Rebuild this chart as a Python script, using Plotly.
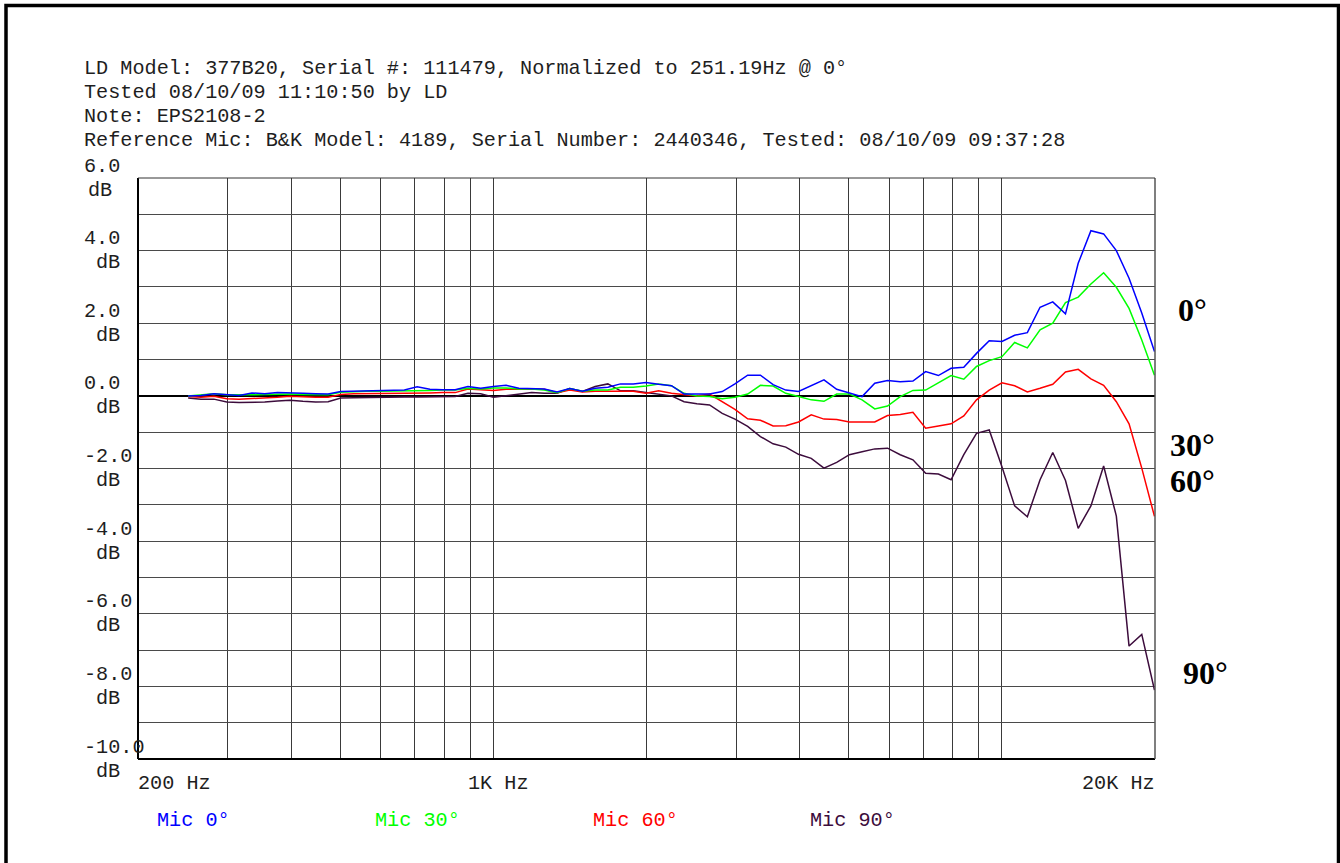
import plotly.graph_objects as go

# ---------------- data ----------------
freq_hz = [251, 266, 282, 299, 316, 335, 355, 376, 398, 422, 447, 473, 501, 531, 562, 596,
           631, 668, 708, 750, 794, 841, 891, 944, 1000, 1059, 1122, 1189, 1259, 1334, 1413,
           1496, 1585, 1679, 1778, 1884, 1995, 2113, 2239, 2371, 2512, 2661, 2818, 2985,
           3162, 3350, 3548, 3758, 3981, 4217, 4467, 4732, 5012, 5309, 5623, 5957, 6310,
           6683, 7079, 7499, 7943, 8414, 8913, 9441, 10000, 10593, 11220, 11885, 12589,
           13335, 14125, 14962, 15849, 16788, 17783, 18836, 19953]

mic_0 = [0.00, 0.01, 0.06, 0.03, 0.01, 0.08, 0.06, 0.09, 0.09, 0.07, 0.06, 0.05, 0.12, 0.13,
         0.14, 0.15, 0.15, 0.16, 0.25, 0.18, 0.17, 0.17, 0.26, 0.21, 0.26, 0.29, 0.21, 0.19,
         0.19, 0.11, 0.20, 0.13, 0.21, 0.24, 0.33, 0.33, 0.37, 0.32, 0.28, 0.05, 0.05, 0.05,
         0.12, 0.33, 0.57, 0.57, 0.31, 0.16, 0.12, 0.29, 0.44, 0.18, 0.09, -0.02, 0.35, 0.42,
         0.39, 0.41, 0.67, 0.56, 0.76, 0.79, 1.17, 1.52, 1.50, 1.67, 1.74, 2.44, 2.59, 2.26,
         3.65, 4.55, 4.46, 4.00, 3.24, 2.28, 1.22]

mic_30 = [0.00, 0.03, 0.06, 0.03, 0.02, 0.03, 0.04, 0.05, 0.05, 0.04, 0.03, 0.03, 0.10, 0.12,
          0.13, 0.13, 0.13, 0.13, 0.15, 0.15, 0.16, 0.16, 0.21, 0.19, 0.22, 0.22, 0.19, 0.19,
          0.16, 0.09, 0.20, 0.13, 0.16, 0.16, 0.24, 0.24, 0.27, 0.33, 0.28, 0.07, 0.00, -0.02,
          -0.08, -0.04, 0.05, 0.29, 0.27, 0.07, -0.02, -0.11, -0.15, 0.05, 0.05, -0.11, -0.36,
          -0.28, -0.02, 0.15, 0.16, 0.37, 0.56, 0.46, 0.81, 0.97, 1.08, 1.47, 1.32, 1.82, 2.00,
          2.57, 2.72, 3.08, 3.39, 2.99, 2.41, 1.54, 0.57]

mic_60 = [-0.02, -0.04, -0.01, -0.08, -0.09, -0.08, -0.06, -0.04, -0.01, -0.03, -0.04, -0.04,
          0.04, 0.06, 0.06, 0.06, 0.06, 0.08, 0.08, 0.08, 0.09, 0.09, 0.19, 0.18, 0.15, 0.18,
          0.19, 0.19, 0.18, 0.09, 0.16, 0.11, 0.13, 0.13, 0.14, 0.13, 0.07, 0.14, 0.07, 0.04,
          0.00, 0.05, -0.16, -0.37, -0.63, -0.67, -0.83, -0.82, -0.72, -0.52, -0.64, -0.65,
          -0.72, -0.72, -0.72, -0.54, -0.51, -0.45, -0.89, -0.83, -0.77, -0.55, -0.11, 0.16,
          0.36, 0.28, 0.11, 0.21, 0.32, 0.66, 0.73, 0.47, 0.29, -0.16, -0.77, -1.99, -3.32]

mic_90 = [-0.06, -0.09, -0.09, -0.17, -0.18, -0.18, -0.17, -0.14, -0.12, -0.15, -0.17, -0.16,
          -0.06, -0.05, -0.04, -0.04, -0.03, -0.03, -0.03, -0.03, -0.03, -0.02, 0.07, 0.06,
          -0.04, 0.00, 0.04, 0.09, 0.07, 0.07, 0.20, 0.12, 0.26, 0.33, 0.14, 0.14, 0.09, 0.05,
          0.00, -0.16, -0.22, -0.25, -0.48, -0.64, -0.84, -1.12, -1.32, -1.41, -1.61, -1.72,
          -1.99, -1.83, -1.62, -1.54, -1.46, -1.44, -1.62, -1.76, -2.13, -2.15, -2.31, -1.62,
          -1.03, -0.94, -1.95, -3.03, -3.33, -2.31, -1.56, -2.33, -3.65, -3.03, -1.93, -3.31,
          -6.89, -6.57, -8.10]

series_names = ["Mic 0°", "Mic 30°", "Mic 60°", "Mic 90°"]
series_colors = ["#0000FF", "#00FF00", "#FF0000", "#3C0C3C"]
series_values = [mic_0, mic_30, mic_60, mic_90]

x_grid = [300, 400, 500, 600, 700, 800, 900, 1000, 2000, 3000, 4000, 5000, 6000, 7000,
          8000, 9000, 10000]
y_labels = [6, 4, 2, 0, -2, -4, -6, -8, -10]
x_labels = [(200, "200 Hz"), (1000, "1K Hz"), (20000, "20K Hz")]

header_lines = [
    "LD Model: 377B20, Serial #: 111479, Normalized to 251.19Hz @ 0°",
    "Tested 08/10/09 11:10:50 by LD",
    "Note: EPS2108-2",
    "Reference Mic: B&K Model: 4189, Serial Number: 2440346, Tested: 08/10/09 09:37:28",
]
angle_labels = [("0°", 1192, 310), ("30°", 1192, 445), ("60°", 1192, 481), ("90°", 1205, 673)]

# ---------------- layout geometry (pixels) ----------------
W, H = 1340, 863
L, R, T, B = 138, 1155, 178, 759
PW, PH = R - L, B - T


def px(x):
    return (x - L) / PW


def py(y):
    return (B - y) / PH


MONO = "Courier New, Courier, Nimbus Mono PS, FreeMono, Liberation Mono, monospace"
FS = 20.2
TXT = "#1e1e1e"

fig = go.Figure()
for name, color, vals in zip(reversed(series_names), reversed(series_colors),
                             reversed(series_values)):
    fig.add_trace(go.Scatter(x=freq_hz, y=vals, mode="lines", name=name,
                             line=dict(color=color, width=1.5), showlegend=False))

annotations = []
for i, line in enumerate(header_lines):
    annotations.append(dict(text=line, x=px(82), y=py(68 + 24 * i), xref="paper", yref="paper",
                            xanchor="left", yanchor="middle", showarrow=False,
                            font=dict(family=MONO, size=FS, color=TXT)))

for v in y_labels:
    gy = B - (v + 10) / 16 * PH
    annotations.append(dict(text=f"{v:.1f}", x=px(82), y=py(gy - 12), xref="paper",
                            yref="paper", xanchor="left", yanchor="middle", showarrow=False,
                            font=dict(family=MONO, size=FS, color=TXT)))
    annotations.append(dict(text="dB", x=px(86 if v == 6 else 94), y=py(gy + 12),
                            xref="paper", yref="paper", xanchor="left", yanchor="middle",
                            showarrow=False, font=dict(family=MONO, size=FS, color=TXT)))

x_lab_pos = [(136, "left"), (466, "left"), (1157, "right")]
for (f, lab), (xp, anc) in zip(x_labels, x_lab_pos):
    annotations.append(dict(text=lab, x=px(xp), y=py(784), xref="paper", yref="paper",
                            xanchor=anc, yanchor="middle", showarrow=False,
                            font=dict(family=MONO, size=FS, color=TXT)))

leg_x = [155, 373, 591, 808]
for name, color, lx in zip(series_names, series_colors, leg_x):
    annotations.append(dict(text=name, x=px(lx), y=py(820), xref="paper", yref="paper",
                            xanchor="left", yanchor="middle", showarrow=False,
                            font=dict(family=MONO, size=FS, color=color)))

for lab, ax, ay in angle_labels:
    annotations.append(dict(text=f"<b>{lab}</b>", x=px(ax), y=py(ay), xref="paper",
                            yref="paper", xanchor="center", yanchor="middle", showarrow=False,
                            font=dict(family="Liberation Serif, Times New Roman, serif",
                                      size=32, color="#000000")))

shapes = [
    # outer frame (bottom edge falls outside the page)
    dict(type="rect", xref="paper", yref="paper", x0=px(6), x1=px(1338.5), y0=py(880),
         y1=py(5.5), line=dict(color="#000000", width=3.5), layer="above"),
    # plot frame
    dict(type="line", xref="paper", yref="paper", x0=0, x1=0, y0=0, y1=1,
         line=dict(color="#000000", width=2)),
    dict(type="line", xref="paper", yref="paper", x0=0, x1=1, y0=0, y1=0,
         line=dict(color="#000000", width=2)),
    dict(type="line", xref="paper", yref="paper", x0=1, x1=1, y0=0, y1=1,
         line=dict(color="#555555", width=1.5)),
    dict(type="line", xref="paper", yref="paper", x0=0, x1=1, y0=1, y1=1,
         line=dict(color="#333333", width=1)),
]

fig.update_layout(
    width=W, height=H,
    margin=dict(l=L, r=W - R, t=T, b=H - B, pad=0),
    paper_bgcolor="white", plot_bgcolor="white",
    annotations=annotations, shapes=shapes,
    xaxis=dict(type="log", range=[2.30103, 4.30103], tickvals=x_grid, showticklabels=False,
               ticks="", showgrid=True, gridcolor="#3a3a3a", gridwidth=1, zeroline=False,
               showline=False, fixedrange=True),
    yaxis=dict(range=[-10, 6], dtick=1, tick0=0, showticklabels=False, ticks="",
               showgrid=True, gridcolor="#4a4a4a", gridwidth=1, zeroline=True,
               zerolinecolor="#000000", zerolinewidth=1.5, showline=False, fixedrange=True),
)

fig.write_html("out.html")
